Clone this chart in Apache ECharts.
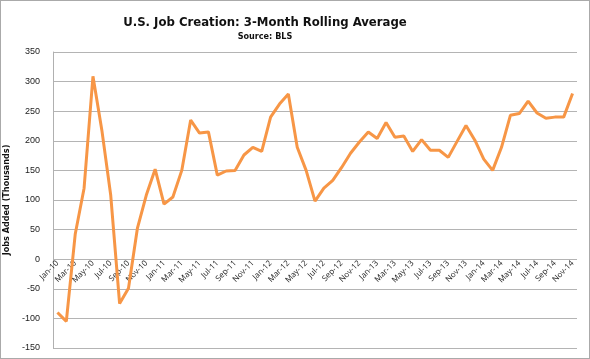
<!DOCTYPE html>
<html>
<head>
<meta charset="utf-8">
<script src="https://cdn.jsdelivr.net/npm/echarts@6/dist/echarts.min.js"></script>
<style>
html,body{margin:0;padding:0;background:#fff;}
#c{width:588px;height:357px;border:1px solid #aaa;box-sizing:content-box;}
</style>
</head>
<body>
<div id="c"></div>
<script>
const months = ['Jan','Feb','Mar','Apr','May','Jun','Jul','Aug','Sep','Oct','Nov','Dec'];
const years = ['10','11','12','13','14'];
const categories = [];
years.forEach(y => months.forEach(m => categories.push(m + '-' + y)));
categories.length = 59; // Jan-10 .. Nov-14

const jobsAdded = [
  -90, -105, 42, 120, 309, 218, 108, -75, -49, 52, 108, 152,
  93, 105, 150, 235, 213, 215, 142, 149, 150, 176, 189, 182,
  240, 262, 279, 189, 150, 98, 120, 133, 155, 179, 198, 215,
  204, 231, 206, 208, 182, 202, 184, 184, 172, 199, 226, 201,
  169, 150, 189, 243, 246, 267, 247, 238, 240, 240, 280
];

const yTicks = { min: -150, max: 350, interval: 50 };

const condensed = '"DejaVu Sans Condensed","Liberation Sans Narrow",sans-serif';

const chart = echarts.init(document.getElementById('c'));
chart.setOption({
  animation: false,
  title: {
    text: 'U.S. Job Creation: 3-Month Rolling Average',
    subtext: 'Source: BLS',
    left: 259,
    top: 10,
    textAlign: 'center',
    itemGap: 3,
    textStyle: { fontFamily: condensed, fontWeight: 'bold', fontSize: 13, color: '#111' },
    subtextStyle: { fontFamily: condensed, fontWeight: 'bold', fontSize: 9, color: '#111' }
  },
  grid: { left: 52, right: 12, top: 51, bottom: 10, containLabel: false, outerBoundsMode: 'none' },
  xAxis: {
    type: 'category',
    data: categories,
    boundaryGap: true,
    axisLine: { show: false, onZero: false },
    axisTick: { show: false },
    axisLabel: {
      interval: 1,
      rotate: 45,
      fontSize: 8,
      color: '#222',
      margin: -86,
      fontFamily: '"Open Sans",sans-serif'
    },
    splitLine: { show: false }
  },
  yAxis: {
    type: 'value',
    min: yTicks.min,
    max: yTicks.max,
    interval: yTicks.interval,
    name: 'Jobs Added (Thousands)',
    nameLocation: 'middle',
    nameGap: 34,
    nameTextStyle: { fontFamily: condensed, fontWeight: 'bold', fontSize: 9, color: '#111' },
    axisLine: { show: true, lineStyle: { color: '#b0b0b0', width: 1 } },
    axisTick: { show: false },
    axisLabel: { fontSize: 9, color: '#222', margin: 13, fontFamily: '"Liberation Sans",sans-serif' },
    splitLine: { show: true, lineStyle: { color: '#b4b4b4', width: 1 } }
  },
  series: [{
    type: 'line',
    data: jobsAdded,
    symbol: 'none',
    lineStyle: { color: '#f79646', width: 3 },
    itemStyle: { color: '#f79646' }
  }]
});
</script>
</body>
</html>
